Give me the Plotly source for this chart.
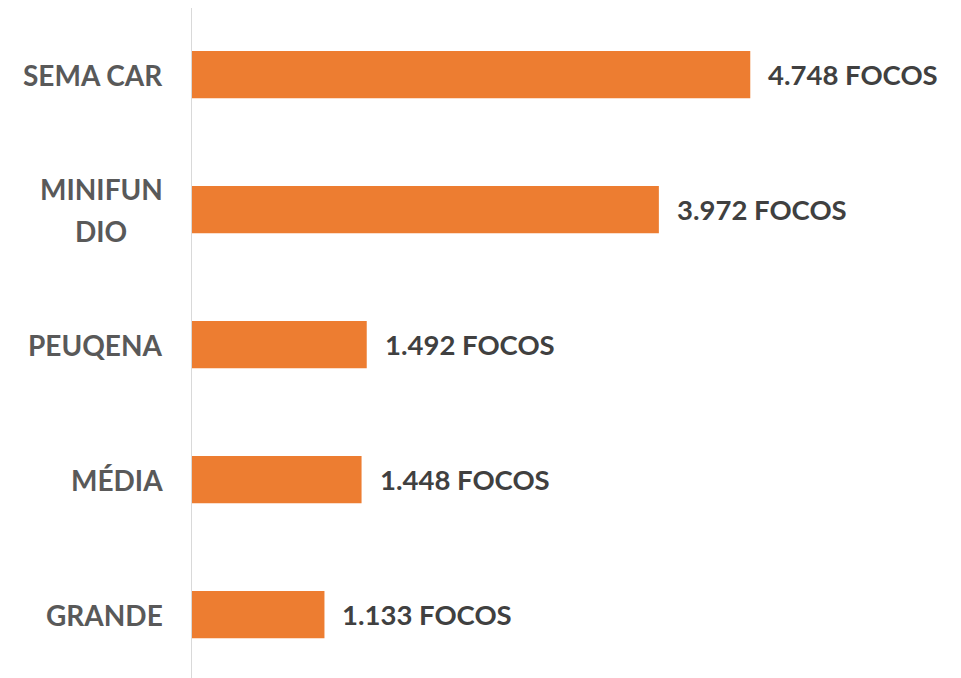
import plotly.graph_objects as go

categories = ["SEMA CAR", "MINIFUN<br>DIO", "PEUQENA", "MÉDIA", "GRANDE"]
values = [4748, 3972, 1492, 1448, 1133]
value_labels = ["4.748 FOCOS", "3.972 FOCOS", "1.492 FOCOS", "1.448 FOCOS", "1.133 FOCOS"]

FONT = "Lato"
LINE_PITCH = 42

fig = go.Figure(go.Bar(
    y=list(range(len(categories))), x=values, orientation="h",
    marker=dict(color="#ED7D31", line=dict(width=0)),
    width=0.35, hoverinfo="skip",
))

annotations = []
for i, (v, lab) in enumerate(zip(values, value_labels)):
    annotations.append(dict(x=v, y=i, xref="x", yref="y", text=lab, showarrow=False,
                            xanchor="left", xshift=16,
                            font=dict(family=FONT, size=27.5, color="#404040", weight="bold")))

# category labels: centered multi-line blocks left of the axis
label_right = -26
for i, c in enumerate(categories):
    lines = c.split("<br>")
    n = len(lines)
    for j, ln in enumerate(lines):
        shift = ((n - 1) / 2 - j) * LINE_PITCH
        annotations.append(dict(x=0, y=i, xref="paper", yref="y", text=ln, showarrow=False,
                                xanchor="center" if n > 1 else "right",
                                xshift=label_right - (64 if n > 1 else 0), yshift=shift,
                                font=dict(family=FONT, size=28, color="#595959", weight="bold")))

fig.update_layout(
    width=953, height=670,
    margin=dict(l=183, r=0, t=0, b=0),
    plot_bgcolor="white", paper_bgcolor="white",
    showlegend=False,
    annotations=annotations,
    xaxis=dict(range=[0, 6537], showgrid=False, zeroline=False, showticklabels=False,
               showline=False, fixedrange=True),
    yaxis=dict(range=[4.47, -0.4926], showgrid=False, zeroline=False, showticklabels=False,
               showline=False, fixedrange=True),
    shapes=[dict(type="line", xref="x", yref="paper", x0=0, x1=0, y0=0, y1=1,
                 line=dict(color="#D9D9D9", width=2))],
)

fig.write_html("out.html")
